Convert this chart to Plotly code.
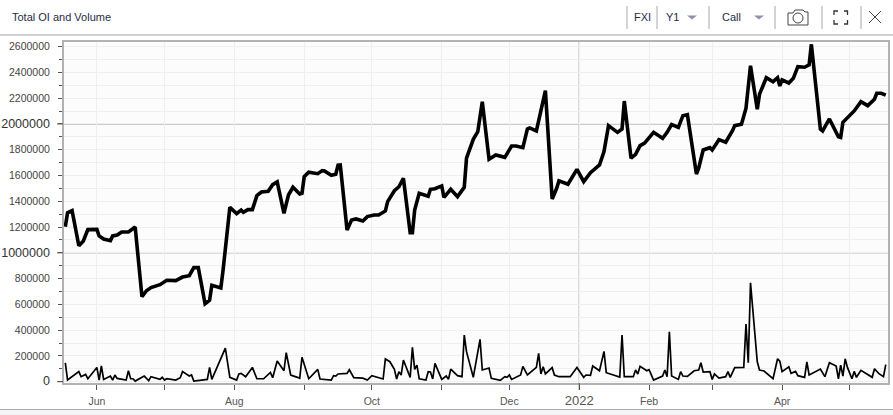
from datetime import date, timedelta
import plotly.graph_objects as go

BASE = date(2021, 6, 1)

oi_days = [-14,-13,-11,-8,-6,-4,0,1,3,6,7,9,11,14,17,20,22,24,28,31,35,38,41,43,45,48,50,51,55,56,59,62,64,65,67,69,71,73,76,78,80,83,85,87,90,91,92,94,98,100,101,104,106,107,108,111,113,115,118,120,123,125,128,129,132,134,136,139,140,141,143,147,148,150,153,154,157,160,163,164,167,169,171,174,177,181,184,186,189,191,192,195,199,202,204,205,209,213,216,219,223,225,227,231,233,234,237,239,241,243,247,251,253,255,258,260,262,266,267,269,272,273,276,279,282,283,286,288,290,293,294,297,300,302,303,304,307,309,311,314,316,317,321,322,325,329,330,331,336,339,342,345,346,348,350]
oi_values = [1203000,1311000,1327000,1055000,1092000,1180000,1182000,1131000,1107000,1094000,1131000,1138000,1162000,1162000,1200000,660000,706000,730000,753000,787000,784000,812000,823000,885000,885000,605000,632000,748000,727000,867000,1354000,1304000,1332000,1315000,1335000,1335000,1444000,1472000,1478000,1529000,1550000,1307000,1449000,1509000,1457000,1462000,1591000,1625000,1614000,1638000,1635000,1602000,1610000,1680000,1682000,1177000,1255000,1263000,1247000,1281000,1294000,1294000,1325000,1397000,1482000,1513000,1579000,1156000,1156000,1332000,1462000,1439000,1493000,1498000,1519000,1431000,1493000,1436000,1509000,1734000,1881000,1940000,2173000,1726000,1759000,1741000,1829000,1829000,1816000,1961000,1969000,1946000,2258000,1418000,1501000,1558000,1532000,1648000,1552000,1622000,1682000,1785000,1987000,1935000,1961000,2178000,1734000,1765000,1832000,1852000,1935000,1889000,1935000,1995000,1974000,2064000,2072000,1612000,1656000,1798000,1816000,1798000,1878000,1858000,1948000,1987000,1998000,2122000,2452000,2114000,2231000,2359000,2328000,2359000,2295000,2342000,2318000,2354000,2445000,2440000,2458000,2618000,1961000,1946000,2039000,1901000,1896000,2013000,2101000,2173000,2142000,2192000,2238000,2238000,2223000]

vol_days = [-14,-13,-8,-7,-5,-4,0,1,2,3,6,7,8,9,13,14,15,16,17,21,23,24,28,29,30,31,35,37,38,41,42,43,49,50,51,57,59,62,63,64,66,69,71,74,77,78,80,83,84,86,89,90,91,94,98,99,104,105,106,107,111,112,114,118,120,122,127,128,130,132,133,134,135,136,139,140,141,142,143,146,147,148,149,150,153,155,156,157,160,162,163,164,167,170,171,174,175,179,181,182,183,184,188,189,191,195,196,197,198,199,202,203,205,210,213,216,217,219,220,223,225,226,232,233,234,238,239,240,241,244,245,247,251,252,253,254,255,258,259,260,262,265,267,268,269,272,273,274,276,279,280,281,283,287,288,289,290,293,294,296,300,302,303,304,307,308,310,311,314,315,316,321,323,325,328,329,330,331,332,333,335,336,337,339,344,345,347,349,350]
vol_values = [147000,13000,78000,39000,57000,23000,111000,13000,122000,18000,44000,13000,52000,26000,13000,85000,23000,23000,5000,44000,8000,39000,18000,34000,13000,23000,13000,31000,78000,44000,52000,5000,18000,111000,18000,261000,34000,13000,60000,65000,39000,111000,23000,23000,72000,31000,160000,85000,225000,52000,34000,26000,189000,23000,96000,21000,13000,47000,44000,60000,65000,93000,31000,28000,13000,47000,21000,176000,155000,96000,21000,78000,52000,168000,34000,266000,96000,129000,23000,13000,78000,75000,21000,142000,18000,44000,18000,98000,47000,39000,362000,233000,34000,329000,91000,106000,26000,10000,39000,34000,52000,18000,52000,119000,52000,111000,220000,60000,116000,60000,109000,52000,39000,39000,111000,34000,52000,49000,122000,85000,235000,70000,36000,362000,39000,39000,91000,60000,119000,85000,93000,13000,44000,91000,39000,388000,44000,18000,78000,44000,41000,85000,91000,147000,75000,78000,18000,60000,28000,39000,78000,34000,109000,111000,448000,147000,768000,155000,91000,83000,23000,178000,160000,78000,116000,65000,80000,47000,34000,153000,52000,98000,39000,147000,122000,23000,129000,44000,178000,111000,23000,80000,34000,88000,34000,101000,62000,39000,132000]

title_text = "Total OI and Volume"
y_major = [0, 200000, 400000, 600000, 800000, 1000000, 1200000, 1400000, 1600000, 1800000, 2000000, 2200000, 2400000, 2600000]
y_minor = [100000, 300000, 500000, 700000, 900000, 1100000, 1300000, 1500000, 1700000, 1900000, 2100000, 2300000, 2500000]
y_big = [0, 1000000, 2000000]
month_ticks = ["2021-06-01","2021-07-01","2021-08-01","2021-09-01","2021-10-01","2021-11-01","2021-12-01","2022-01-01","2022-02-01","2022-03-01","2022-04-01","2022-05-01"]
month_labels = ["Jun","","Aug","","Oct","","Dec","2022","Feb","","Apr",""]

L, R, T, B = 64, 888, 42, 383
W, H = 893, 415
FONT = "Liberation Sans"

def px(x): return (x - L) / (R - L)
def py(y): return (B - y) / (B - T)

def to_dates(days):
    return [(BASE + timedelta(days=d)).isoformat() for d in days]

def big(t, size=12.5, color="#333"):
    return f'<span style="font-size:{size}px;color:{color}">{t}</span>'

y_text = [big(f"{v}") if v in y_big else f"{v}" for v in y_major]
x_text = [big(t, 13, "#555") if t == "2022" else t for t in month_labels]

def ui_line(x0, y0, x1, y1, color, width=1):
    return dict(type="line", xref="paper", yref="paper", x0=px(x0), y0=py(y0), x1=px(x1), y1=py(y1),
                line=dict(color=color, width=width), layer="above")

def ui_path(points, color=None, fill=None, width=1, close=False):
    d = "M " + " L ".join(f"{px(a):.5f},{py(b):.5f}" for a, b in points) + (" Z" if close else "")
    return dict(type="path", xref="paper", yref="paper", path=d, fillcolor=fill or "rgba(0,0,0,0)",
                line=dict(color=color or "rgba(0,0,0,0)", width=width), layer="above")

shapes = []
for v in [1000000, 2000000]:
    shapes.append(dict(type="line", xref="x domain", yref="y", x0=0, x1=1, y0=v, y1=v,
                       line=dict(color="#bdbdbd", width=1.5), layer="below"))
shapes.append(dict(type="line", xref="x", yref="y domain", x0="2022-01-01", x1="2022-01-01", y0=0, y1=1,
                   line=dict(color="#bdbdbd", width=1.5), layer="below"))
for v in y_big:
    shapes.append(dict(type="line", xref="paper", yref="y", x0=px(57), x1=px(63), y0=v, y1=v,
                       line=dict(color="#555", width=1), layer="above"))
shapes.append(dict(type="line", xref="x", yref="paper", x0="2022-01-01", x1="2022-01-01", y0=py(383), y1=py(390),
                   line=dict(color="#555", width=1), layer="above"))
shapes.append(ui_line(0, 35, W, 35, "#a3a3a3", 1))
shapes.append(ui_line(0, 409.5, W, 409.5, "#ababab", 1))
shapes.append(dict(type="rect", xref="paper", yref="paper", x0=px(0), x1=px(W), y0=py(410), y1=py(415),
                   fillcolor="#f4f4f6", line=dict(width=0), layer="above"))
for x in [627, 657, 709, 775, 822, 861]:
    shapes.append(ui_line(x, 6, x, 29, "#a8a8a8", 1))
for x in [692, 759]:
    shapes.append(ui_path([(x - 5, 15.5), (x + 5, 15.5), (x, 19.5)], fill="#8c93aa", close=True))
shapes.append(ui_path([(788, 13), (793, 13), (795, 10), (803, 10), (805, 12), (808, 12), (808, 25), (788, 25)],
                      color="#444", width=1, close=True))
shapes.append(dict(type="circle", xref="paper", yref="paper", x0=px(793), x1=px(803), y0=py(23), y1=py(13),
                   line=dict(color="#444", width=1), layer="above"))
for pts in ([(834, 15), (834, 11), (838, 11)], [(844, 11), (847.5, 11), (847.5, 15)],
            [(834, 20), (834, 24), (838, 24)], [(844, 24), (847.5, 24), (847.5, 20)]):
    shapes.append(ui_path(pts, color="#333", width=1.3))
shapes.append(ui_line(869, 11, 881, 23, "#444", 1))
shapes.append(ui_line(881, 11, 869, 23, "#444", 1))

def ui_text(x, y, text, size=11, color="#262a45", anchor="left"):
    return dict(text=text, xref="paper", yref="paper", x=px(x), y=py(y), xanchor=anchor, yanchor="middle",
                showarrow=False, font=dict(family=FONT, size=size, color=color))

annotations = [
    ui_text(10, 17, title_text),
    ui_text(642, 17, "FXI", anchor="center"),
    ui_text(672, 17, "Y1", anchor="center"),
    ui_text(731, 17, "Call", anchor="center"),
]

fig = go.Figure()
fig.add_trace(go.Scatter(x=to_dates(oi_days), y=oi_values, mode="lines", name="Total OI",
                         line=dict(color="#000", width=3.6, shape="linear"), showlegend=False, cliponaxis=False))
fig.add_trace(go.Scatter(x=to_dates(vol_days), y=vol_values, mode="lines", name="Volume",
                         line=dict(color="#000", width=1.7, shape="linear"), showlegend=False))

fig.update_layout(
    width=W, height=H, autosize=False,
    margin=dict(l=L, r=W - R, t=T, b=H - B, pad=0),
    paper_bgcolor="#ffffff", plot_bgcolor="#fcfcfc",
    font=dict(family=FONT, size=10.5, color="#444"),
    shapes=shapes, annotations=annotations, showlegend=False,
    xaxis=dict(
        type="date", range=["2021-05-17T10:00", "2022-05-18T00:00"], automargin=False,
        tickmode="array", tickvals=month_ticks, ticktext=x_text,
        ticks="outside", ticklen=5, tickcolor="#555", ticklabelstandoff=2,
        showgrid=True, gridcolor="#efefef", gridwidth=1, zeroline=False,
        showline=True, linecolor="#b2b2b2", linewidth=2, mirror=True,
        tickfont=dict(family=FONT, size=10.5, color="#555"), tickangle=0,
    ),
    yaxis=dict(
        range=[-10000, 2636000], tickmode="array", tickvals=y_major, ticktext=y_text, automargin=False,
        ticks="outside", ticklen=4, tickcolor="#555", ticklabelstandoff=6,
        showgrid=True, gridcolor="#efefef", gridwidth=1, zeroline=False,
        showline=True, linecolor="#b2b2b2", linewidth=2, mirror=True,
        tickfont=dict(family=FONT, size=10.5, color="#444"),
        minor=dict(tickmode="array", tickvals=y_minor, ticks="outside", ticklen=3, tickcolor="#555",
                   showgrid=True, gridcolor="#efefef", gridwidth=1),
    ),
)
fig.write_html("out.html", config={"displayModeBar": False},
               post_script="document.body.style.margin='0';document.body.style.overflow='hidden';")
